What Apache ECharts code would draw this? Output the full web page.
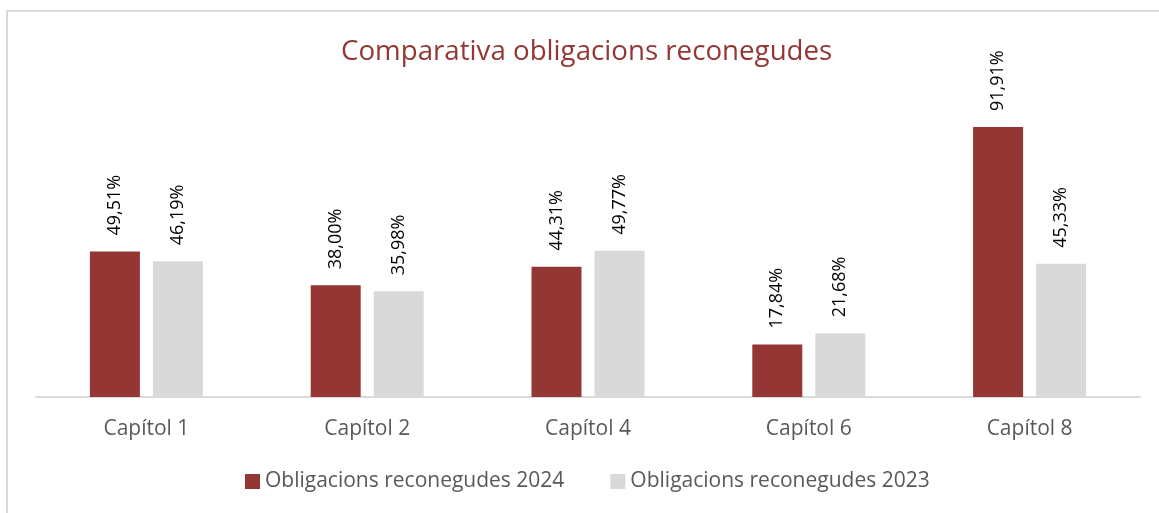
<!DOCTYPE html>
<html>
<head>
<meta charset="utf-8">
<script src="https://cdn.jsdelivr.net/npm/echarts@6/dist/echarts.min.js"></script>
<style>
  html, body { margin: 0; padding: 0; background: #fff; }
  #frame { position: absolute; left: 6px; top: 10px; width: 1200px; height: 600px; border-top: 2px solid #d9d9d9; border-left: 2px solid #d9d9d9; box-sizing: border-box; }
  #chart { position: absolute; left: 0; top: 0; width: 1159px; height: 513px; }
</style>
</head>
<body>
<div id="frame"></div>
<div id="chart"></div>
<script>
const categories = ['Capítol 1', 'Capítol 2', 'Capítol 4', 'Capítol 6', 'Capítol 8'];
const values2024 = [49.51, 38.00, 44.31, 17.84, 91.91];
const values2023 = [46.19, 35.98, 49.77, 21.68, 45.33];
const seriesNames = ['Obligacions reconegudes 2024', 'Obligacions reconegudes 2023'];
const titleText = 'Comparativa obligacions reconegudes';

const FONT = '"Open Sans", "Noto Sans", sans-serif';
const chart = echarts.init(document.getElementById('chart'), null, { renderer: 'canvas' });

const fmt = p => p.value.toFixed(2).replace('.', ',') + '%';
const labelCfg = {
  show: true,
  position: 'top',
  rotate: 90,
  distance: 16,
  align: 'left',
  verticalAlign: 'middle',
  formatter: fmt,
  color: '#000',
  fontFamily: FONT,
  fontSize: 18
};

chart.setOption({
  animation: false,
  backgroundColor: 'transparent',
  title: {
    text: titleText,
    left: 341,
    top: 38,
    padding: 0,
    textStyle: { color: '#943634', fontFamily: FONT, fontSize: 27.7, fontWeight: 'normal' }
  },
  legend: {
    left: 240,
    top: 466,
    itemWidth: 15,
    itemHeight: 15,
    itemGap: 46,
    icon: 'rect',
    textStyle: { color: '#595959', fontFamily: FONT, fontSize: 21 },
    data: seriesNames
  },
  grid: { left: 36, right: 19, top: 103.2, bottom: 116, containLabel: false },
  xAxis: {
    type: 'category',
    data: categories,
    axisLine: { lineStyle: { color: '#d9d9d9', width: 2 } },
    axisTick: { show: false },
    axisLabel: { color: '#595959', fontFamily: FONT, fontSize: 21, margin: 22 }
  },
  yAxis: {
    type: 'value',
    min: 0,
    max: 100,
    show: false,
    splitLine: { show: false }
  },
  series: [
    {
      name: seriesNames[0],
      type: 'bar',
      data: values2024,
      barWidth: 50,
      barGap: '26%',
      itemStyle: { color: '#943634' },
      label: labelCfg
    },
    {
      name: seriesNames[1],
      type: 'bar',
      data: values2023,
      barWidth: 50,
      itemStyle: { color: '#d9d9d9' },
      label: labelCfg
    }
  ]
});
</script>
</body>
</html>
